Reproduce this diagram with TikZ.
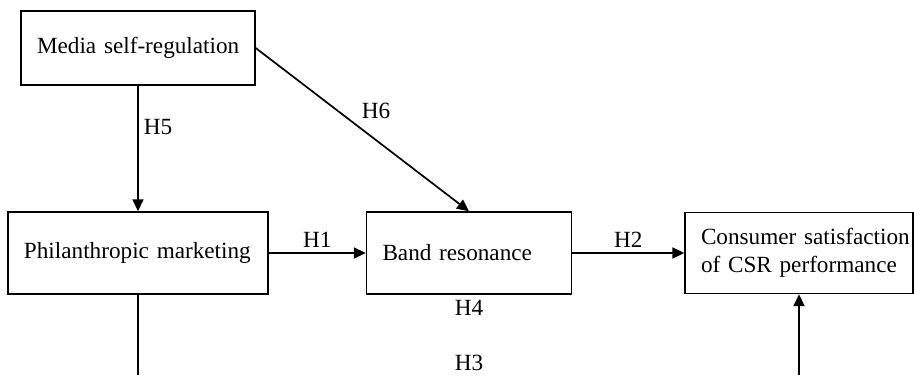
\documentclass[tikz,border=0pt]{standalone}
\usepackage{fontspec}
\setmainfont{Liberation Serif}
\usepackage{tikz}
\usetikzlibrary{positioning,arrows.meta}

\tikzset{
  factor/.style={draw,line width=0.7pt,inner xsep=8pt,align=left,
    minimum height=41pt,font=\fontsize{11.6}{14}\selectfont},
  hyp/.style={font=\fontsize{11.6}{14}\selectfont,inner sep=2.5pt}
}

\begin{document}
\begin{tikzpicture}[node distance=3cm,on grid,auto]
  \useasboundingbox (0pt,0pt) rectangle (457pt,-187.5pt);
  \node[factor,text width=101pt,minimum height=37pt] (msr) at (69pt,-24pt) {\mbox{Media self-regulation}};
  \node[factor,text width=114pt] (pm) [below = 102.5pt of msr] {\mbox{Philanthropic marketing}};
  \node[factor,text width=86.5pt] (br) [right = 165.5pt of pm] {Band resonance};
  \node[factor,text width=98pt,minimum height=40.5pt] (cs) [right = 165pt of br] {\mbox{Consumer satisfaction}\\\mbox{of CSR performance}};

  \node[hyp] (h4) [below = 27.5pt of br] {H4};
  \node[hyp] (h3) [below = 27.5pt of h4] {H3};

  \coordinate (pbot) at (69pt,-187.5pt);
  \coordinate (cbot) at (cs |- pbot);

  \path[line width=0.85pt,-{Triangle[length=6pt,width=5.5pt]}]
  (msr)
  edge [] node [hyp,pos=0.33] {H5} (pm)
  (msr.east)
  edge [] node [hyp,pos=0.47] {H6} (br.north)
  (pm)
  edge [] node [hyp] {H1} (br)
  (br)
  edge [] node [hyp] {H2} (cs)
  (cbot)
  edge [] (cs)
  ;
  \draw[line width=0.85pt] (pm) -- (pbot);
\end{tikzpicture}
\end{document}
